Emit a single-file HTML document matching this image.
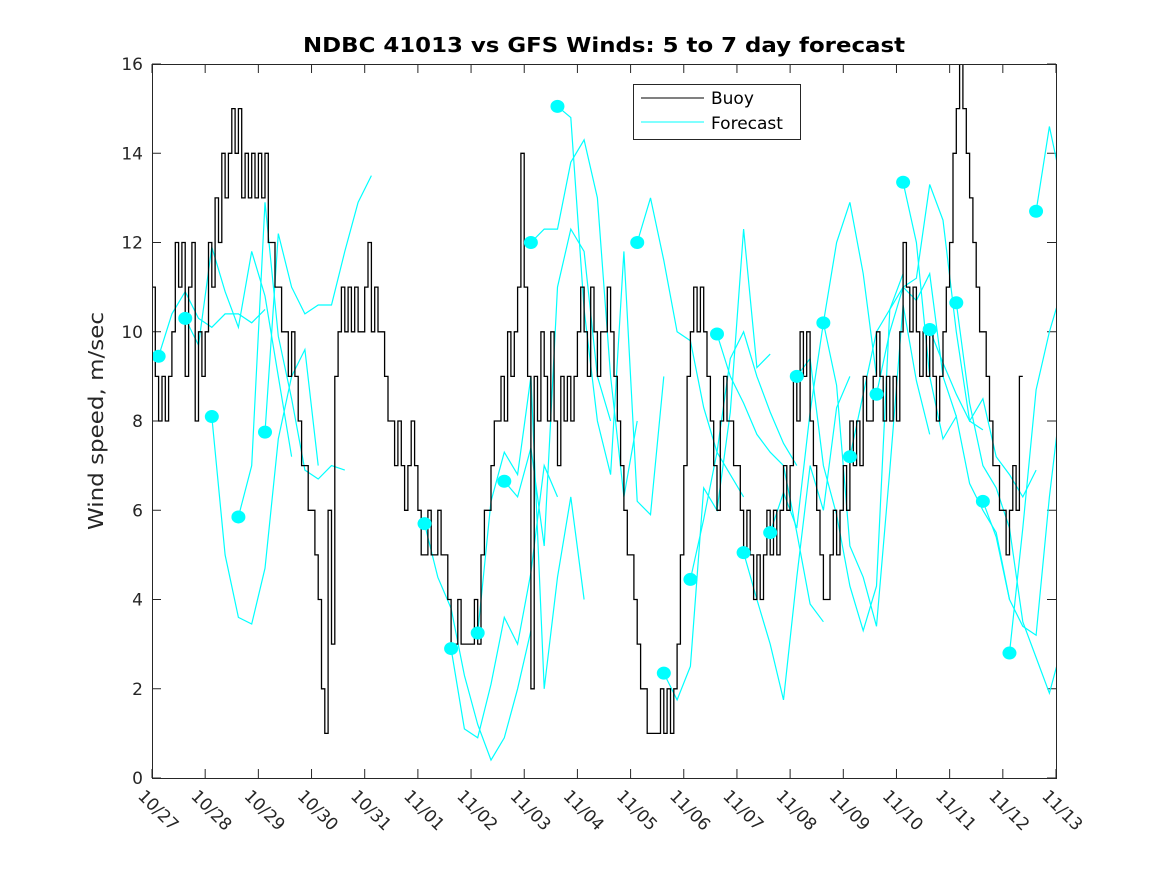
<!DOCTYPE html>
<html><head><meta charset="utf-8"><style>
html,body{margin:0;padding:0;background:#fff;}
svg{display:block;font-family:"DejaVu Sans","Liberation Sans",sans-serif;}
</style></head><body>
<svg id="chart" width="1167" height="875" viewBox="0 0 1167 875" xmlns="http://www.w3.org/2000/svg">
<rect x="0" y="0" width="1167" height="875" fill="#fff"/>
<defs><clipPath id="plotclip"><rect x="152" y="64" width="904" height="714"/></clipPath></defs>
<rect x="152" y="64" width="904" height="714" fill="#fff" stroke="none"/>
<g id="ticks"></g>
<g id="series" clip-path="url(#plotclip)"></g>
<rect x="152.5" y="64.5" width="904" height="714" fill="none" stroke="#262626" stroke-width="1"/>
<text x="604" y="52" text-anchor="middle" font-size="20" font-weight="bold" fill="#000" textLength="602" lengthAdjust="spacingAndGlyphs">NDBC 41013 vs GFS Winds: 5 to 7 day forecast</text>
<text transform="translate(103,421) rotate(-90)" text-anchor="middle" font-size="20" fill="#262626" textLength="218" lengthAdjust="spacingAndGlyphs">Wind speed, m/sec</text>
<g>
<rect x="633.5" y="84.5" width="167" height="55" fill="#fff" stroke="#262626" stroke-width="1"/>
<line x1="641" y1="98" x2="704" y2="98" stroke="#000" stroke-width="1"/>
<text x="711" y="104" font-size="17" fill="#000">Buoy</text>
<line x1="641" y1="122" x2="704" y2="122" stroke="#00ffff" stroke-width="1"/>
<text x="711" y="129" font-size="17" fill="#000">Forecast</text>
</g>
</svg>
<script>
const xTickLabels = ["10/27","10/28","10/29","10/30","10/31","11/01","11/02","11/03","11/04","11/05","11/06","11/07","11/08","11/09","11/10","11/11","11/12","11/13"];
const yTickValues = [0,2,4,6,8,10,12,14,16];
const buoyStep = 0.0625;
const buoyValues = [
11,9,8,9,8,9,10,12,
11,12,9,11,12,8,10,9,
10,12,11,13,12,14,13,14,
15,14,15,13,14,13,14,13,
14,13,14,12,12,11,11,10,
10,9,10,9,8,7,7,6,
6,5,4,2,1,6,3,9,
10,11,10,11,10,11,10,10,
11,12,10,11,10,10,9,8,
8,7,8,7,6,7,8,7,
6,5,5,6,5,5,6,5,
5,4,3,3,4,3,3,3,
3,4,3,5,6,6,7,8,
8,9,8,10,9,10,11,14,
11,9,2,9,8,10,9,8,
10,8,7,9,8,9,8,9,
10,11,10,9,11,10,9,10,
10,11,10,9,8,7,6,5,
5,4,3,2,2,1,1,1,
1,2,1,2,1,2,3,5,
7,9,10,11,10,11,10,9,
8,7,6,8,9,8,8,7,
7,6,5,6,5,4,5,4,
5,6,5,6,5,6,7,6,
7,9,8,10,9,10,8,7,
6,5,4,4,5,6,5,6,
7,6,8,7,8,7,9,8,
8,9,10,9,8,9,8,9,
8,10,12,11,10,11,10,9,
10,9,10,9,8,9,10,11,
12,14,15,16,15,14,13,12,
11,10,10,9,8,7,7,6,
6,5,6,7,6,9
];
const forecastStart = [0.125,0.625,1.125,1.625,2.125,5.125,5.625,6.125,6.625,7.125,7.625,9.125,9.625,10.125,10.625,11.125,11.625,12.125,12.625,13.125,13.625,14.125,14.625,15.125,15.625,16.125,16.625];
const forecastStep = 0.25;
const fc0 = [9.45,10.4,10.9,10.3,10.1,10.4,10.4,10.2,10.5];
const fc1 = [10.3,9.7,11.9,10.9,10.1,11.8,10.8,9.0,7.2];
const fc2 = [8.1,5.0,3.6,3.45,4.7,7.6,9.0,9.6,7.0];
const fc3 = [5.85,7.0,12.9,9.9,8.5,6.9,6.7,7.0,6.9];
const fc4 = [7.75,12.2,11.0,10.4,10.6,10.6,11.8,12.9,13.5];
const fc5 = [5.7,4.5,3.8,2.3,1.2,0.4,0.9,2.0,3.3];
const fc6 = [2.9,1.1,0.9,2.1,3.6,3.0,4.6,7.0,6.3];
const fc7 = [3.25,6.2,7.3,6.8,9.0,2.0,4.5,6.3,4.0];
const fc8 = [6.65,6.3,7.4,5.2,11.0,12.3,11.8,9.0,8.0];
const fc9 = [12.0,12.3,12.3,13.8,14.3,13.0,9.0,6.3,8.0];
const fc10 = [15.05,14.8,10.5,8.0,6.8,11.8,6.2,5.9,9.0];
const fc11 = [12.0,13.0,11.6,10.0,9.8,8.3,7.3,6.8,6.3];
const fc12 = [2.35,1.75,2.5,6.5,6.0,8.2,12.3,9.2,9.5];
const fc13 = [4.45,5.8,7.3,9.4,10.0,9.0,8.2,7.5,7.0];
const fc14 = [9.95,9.0,8.4,7.7,7.3,7.0,5.5,3.9,3.5];
const fc15 = [5.05,4.0,3.0,1.75,4.5,7.0,6.0,8.3,9.0];
const fc16 = [5.5,6.4,5.6,8.2,10.2,12.0,12.9,11.3,9.0];
const fc17 = [9.0,9.4,7.0,5.9,4.3,3.3,4.3,10.5,11.3];
const fc18 = [10.2,8.8,5.2,4.5,3.4,6.9,10.6,8.9,7.7];
const fc19 = [7.2,8.6,10.0,10.5,11.0,10.7,11.3,9.0,8.1];
const fc20 = [8.6,10.0,11.0,11.2,13.3,12.5,10.0,8.0,7.8];
const fc21 = [13.35,12.0,9.0,7.6,8.1,6.6,6.0,5.5,4.0];
const fc22 = [10.05,9.3,8.6,8.0,8.5,7.2,6.8,6.3,6.9];
const fc23 = [10.65,8.4,7.0,6.5,5.6,3.5,2.7,1.9,3.0];
const fc24 = [6.2,5.4,4.0,3.4,3.2,6.3,8.8,10.0,11.2];
const fc25 = [2.8,5.6,8.7,10.0,11.0,12.3,11.5,11.0,11.0];
const fc26 = [12.7,14.6,13.2,12.0,12.0];
const forecasts = [fc0,fc1,fc2,fc3,fc4,fc5,fc6,fc7,fc8,fc9,fc10,fc11,fc12,fc13,fc14,fc15,fc16,fc17,fc18,fc19,fc20,fc21,fc22,fc23,fc24,fc25,fc26];

const NS = "http://www.w3.org/2000/svg";
const X0 = 152, X1 = 1056, Y0 = 778, Y1 = 64;
const xDays = 17, yMax = 16;
function xs(d){ return X0 + d/xDays*(X1-X0); }
function ys(v){ return Y0 - v/yMax*(Y0-Y1); }

const ticks = document.getElementById('ticks');
xTickLabels.forEach(function(lab,i){
  const x = xs(i);
  const t1 = document.createElementNS(NS,'line');
  t1.setAttribute('x1',x); t1.setAttribute('x2',x); t1.setAttribute('y1',Y0); t1.setAttribute('y2',Y0-9);
  t1.setAttribute('stroke','#262626');
  
  
  ticks.appendChild(t1);
  const t2 = document.createElementNS(NS,'line');
  t2.setAttribute('x1',x); t2.setAttribute('x2',x); t2.setAttribute('y1',Y1); t2.setAttribute('y2',Y1+9);
  t2.setAttribute('stroke','#262626');
  
  
  ticks.appendChild(t2);
  const tx = document.createElementNS(NS,'text');
  tx.setAttribute('transform','translate('+(x-15)+','+(Y0+19)+') rotate(45)');
  tx.setAttribute('font-size','17');
  tx.setAttribute('fill','#262626');
  tx.textContent = lab;
  
  
  ticks.appendChild(tx);
});
yTickValues.forEach(function(v){
  const y = ys(v);
  const a = document.createElementNS(NS,'line');
  a.setAttribute('x1',X0); a.setAttribute('x2',X0+9); a.setAttribute('y1',y); a.setAttribute('y2',y);
  a.setAttribute('stroke','#262626');
  
  
  ticks.appendChild(a);
  const b = document.createElementNS(NS,'line');
  b.setAttribute('x1',X1-9); b.setAttribute('x2',X1); b.setAttribute('y1',y); b.setAttribute('y2',y);
  b.setAttribute('stroke','#262626');
  
  
  ticks.appendChild(b);
  const tx = document.createElementNS(NS,'text');
  tx.setAttribute('x',X0-9); tx.setAttribute('y',y+6);
  tx.setAttribute('text-anchor','end');
  tx.setAttribute('font-size','17');
  tx.setAttribute('fill','#262626');
  tx.textContent = v;
  
  
  ticks.appendChild(tx);
});

const series = document.getElementById('series');
forecasts.forEach(function(arr,k){
  const d0 = forecastStart[k];
  const pts = arr.map(function(v,i){ return xs(d0+i*forecastStep).toFixed(1)+','+ys(v).toFixed(1); }).join(' ');
  const pl = document.createElementNS(NS,'polyline');
  pl.setAttribute('points',pts);
  pl.setAttribute('fill','none');
  pl.setAttribute('stroke','#00ffff');
  pl.setAttribute('stroke-width','1.2');
  
  
  series.appendChild(pl);
});
let bp = '';
buoyValues.forEach(function(v,i){
  const xa = xs(i*buoyStep), xb = xs((i+1)*buoyStep), y = ys(v);
  bp += (i===0 ? 'M' : 'L') + xa.toFixed(1)+','+y.toFixed(1)+' L'+xb.toFixed(1)+','+y.toFixed(1)+' ';
});
const bl = document.createElementNS(NS,'path');
bl.setAttribute('d',bp);
bl.setAttribute('fill','none');
bl.setAttribute('stroke','#000');
bl.setAttribute('stroke-width','1.3');


series.appendChild(bl);
forecasts.forEach(function(arr,k){
  const c = document.createElementNS(NS,'ellipse');
  c.setAttribute('cx',xs(forecastStart[k]));
  c.setAttribute('cy',ys(arr[0]));
  c.setAttribute('rx','7'); c.setAttribute('ry','6.5');
  c.setAttribute('fill','#00ffff');
  
  
  series.appendChild(c);
});
</script>
</body></html>
